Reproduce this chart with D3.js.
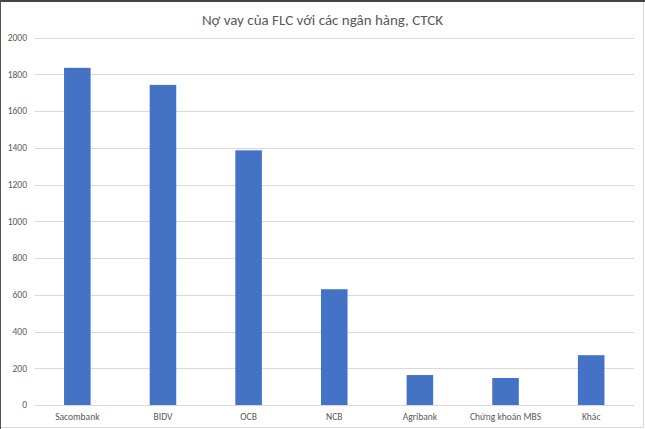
<!DOCTYPE html>
<html>
<head>
<meta charset="utf-8">
<script src="https://cdn.jsdelivr.net/npm/d3@7"></script>
<style>
  body { margin: 0; background: #fff; }
  svg { display: block; font-family: Calibri, Carlito, "Liberation Sans", "Open Sans", sans-serif; }
</style>
</head>
<body>
<svg id="chart" width="645" height="429"></svg>
<script>
// Dữ liệu (tỷ đồng)
const categories = ['Sacombank', 'BIDV', 'OCB', 'NCB', 'Agribank', 'Chứng khoán MBS', 'Khác'];
const values = [1835, 1742, 1386, 630, 163, 147, 271];
const yTicks = [0, 200, 400, 600, 800, 1000, 1200, 1400, 1600, 1800, 2000];

const width = 645;
const height = 429;
const margin = { top: 37.5, right: 11, bottom: 24, left: 34.5 };

const svg = d3.select('#chart');

// Khung
svg.append('rect')
  .attr('x', 0.5).attr('y', 0.5)
  .attr('width', width - 2).attr('height', height - 2)
  .attr('fill', '#fff')
  .attr('stroke', '#d9d9d9');
svg.append('line')
  .attr('x1', 0).attr('x2', width).attr('y1', 1).attr('y2', 1)
  .attr('stroke', '#444').attr('stroke-width', 2);
svg.append('line')
  .attr('x1', 0.5).attr('x2', 0.5).attr('y1', 0).attr('y2', height)
  .attr('stroke', '#555').attr('stroke-width', 1);

const x = d3.scaleBand()
  .domain(categories)
  .range([margin.left, width - margin.right])
  .paddingInner(0.69)
  .paddingOuter(0.345);

const y = d3.scaleLinear()
  .domain([0, 2000])
  .range([height - margin.bottom, margin.top]);

// Lưới ngang
svg.append('g')
  .selectAll('line')
  .data(yTicks)
  .join('line')
  .attr('x1', margin.left)
  .attr('x2', width - margin.right)
  .attr('y1', (d) => Math.round(y(d)) + 0.5)
  .attr('y2', (d) => Math.round(y(d)) + 0.5)
  .attr('stroke', '#d9d9d9')
  .attr('stroke-width', 1);

// Nhãn trục Y
svg.append('g')
  .selectAll('text')
  .data(yTicks)
  .join('text')
  .attr('x', 27)
  .attr('y', (d) => y(d))
  .attr('dy', '0.35em')
  .attr('text-anchor', 'end')
  .attr('font-size', 9.5)
  .attr('fill', '#595959')
  .text((d) => d);

// Cột
svg.append('g')
  .selectAll('rect')
  .data(values)
  .join('rect')
  .attr('x', (d, i) => x(categories[i]))
  .attr('width', x.bandwidth())
  .attr('y', (d) => y(d))
  .attr('height', (d) => y(0) - y(d))
  .attr('fill', '#4472c4');

// Nhãn trục X
svg.append('g')
  .selectAll('text')
  .data(categories)
  .join('text')
  .attr('x', (d) => x(d) + x.bandwidth() / 2)
  .attr('y', 417)
  .attr('dy', '0.35em')
  .attr('text-anchor', 'middle')
  .attr('font-size', 9.5)
  .attr('fill', '#595959')
  .text((d) => d);

// Tiêu đề
svg.append('text')
  .attr('x', width / 2)
  .attr('y', 20)
  .attr('dy', '0.35em')
  .attr('text-anchor', 'middle')
  .attr('font-size', 15)
  .attr('fill', '#595959')
  .text('Nợ vay của FLC với các ngân hàng, CTCK');
</script>
</body>
</html>
